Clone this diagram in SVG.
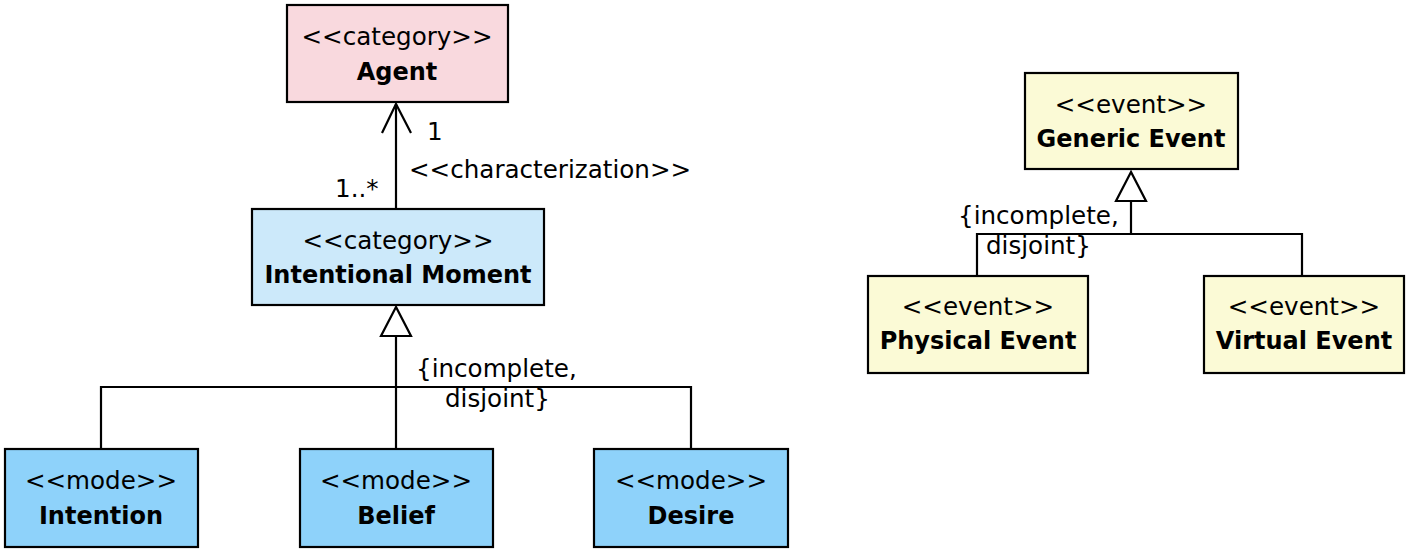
<svg xmlns="http://www.w3.org/2000/svg" width="1414" height="555" viewBox="0 0 1414 555">
<style>
.box{stroke:#000;stroke-width:2.2}
.agent{fill:#f9d9de}
.cat{fill:#cce9fa}
.mode{fill:#8ed2fa}
.event{fill:#fbfad6}
text{font-family:"DejaVu Sans","Liberation Sans",sans-serif;font-size:24.6px;fill:#000}
.st{text-anchor:middle}
.nm{text-anchor:middle;font-weight:bold;font-size:24px}
.ln{fill:none;stroke:#000;stroke-width:2.2}
.tri{fill:#fff;stroke:#000;stroke-width:2.2}
</style>
<rect width="1414" height="555" fill="#fff"/>
<g id="connectors">
  <line class="ln" x1="396" y1="208" x2="396" y2="104"/>
  <polyline class="ln" points="382,133 396,104 411,133"/>
  <text x="427" y="140">1</text>
  <text x="409" y="178">&lt;&lt;characterization&gt;&gt;</text>
  <text x="335" y="197">1..*</text>
  <polyline class="ln" points="101,449 101,387 691,387 691,449"/>
  <line class="ln" x1="396" y1="336" x2="396" y2="449"/>
  <polygon class="tri" points="396,307 381,336 411,336"/>
  <text x="416" y="377">{incomplete,</text>
  <text x="445" y="407">disjoint}</text>
  <polyline class="ln" points="977,276 977,234 1302,234 1302,276"/>
  <line class="ln" x1="1131" y1="201" x2="1131" y2="234"/>
  <polygon class="tri" points="1131,172 1116,201 1146,201"/>
  <text x="958" y="224">{incomplete,</text>
  <text x="986" y="254">disjoint}</text>
</g>
<g id="agent">
  <rect class="box agent" x="287" y="5" width="221" height="97"/>
  <text class="st" x="397" y="45">&lt;&lt;category&gt;&gt;</text>
  <text class="nm" x="397" y="80">Agent</text>
</g>
<g id="intentional-moment">
  <rect class="box cat" x="252" y="209" width="292" height="96"/>
  <text class="st" x="398" y="249">&lt;&lt;category&gt;&gt;</text>
  <text class="nm" x="398" y="283">Intentional Moment</text>
</g>
<g id="intention">
  <rect class="box mode" x="5" y="449" width="193" height="98"/>
  <text class="st" x="101" y="489">&lt;&lt;mode&gt;&gt;</text>
  <text class="nm" x="101" y="524">Intention</text>
</g>
<g id="belief">
  <rect class="box mode" x="300" y="449" width="193" height="98"/>
  <text class="st" x="396" y="489">&lt;&lt;mode&gt;&gt;</text>
  <text class="nm" x="396" y="524">Belief</text>
</g>
<g id="desire">
  <rect class="box mode" x="594" y="449" width="194" height="98"/>
  <text class="st" x="691" y="489">&lt;&lt;mode&gt;&gt;</text>
  <text class="nm" x="691" y="524">Desire</text>
</g>
<g id="generic-event">
  <rect class="box event" x="1025" y="73" width="213" height="96"/>
  <text class="st" x="1131" y="113">&lt;&lt;event&gt;&gt;</text>
  <text class="nm" x="1131" y="147">Generic Event</text>
</g>
<g id="physical-event">
  <rect class="box event" x="868" y="276" width="220" height="97"/>
  <text class="st" x="978" y="315">&lt;&lt;event&gt;&gt;</text>
  <text class="nm" x="978" y="349">Physical Event</text>
</g>
<g id="virtual-event">
  <rect class="box event" x="1204" y="276" width="200" height="97"/>
  <text class="st" x="1304" y="315">&lt;&lt;event&gt;&gt;</text>
  <text class="nm" x="1304" y="349">Virtual Event</text>
</g>
</svg>
